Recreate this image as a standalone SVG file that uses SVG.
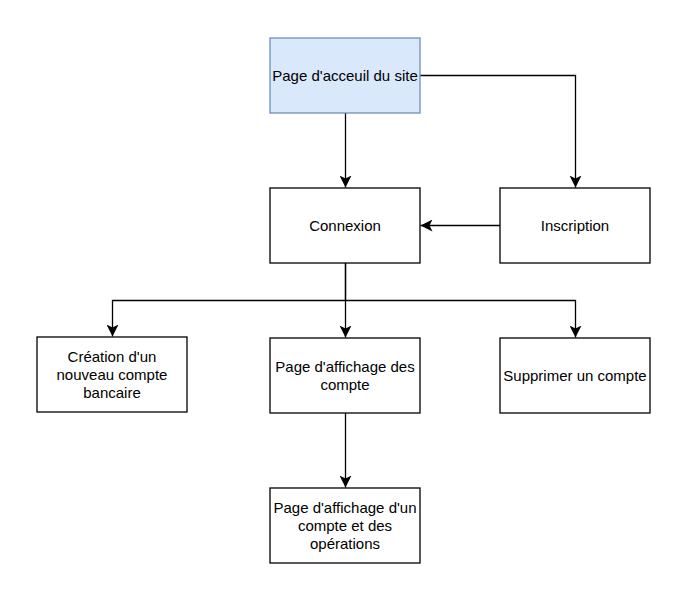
<svg xmlns="http://www.w3.org/2000/svg" width="686" height="607" viewBox="0 0 686 607">
<style>
.box{fill:#ffffff;stroke:#000000;stroke-width:1.3}
.blue{fill:#dae8fc;stroke:#6c8ebf;stroke-width:1.3}
.lbl{font-family:"Liberation Sans",Arial,sans-serif;font-size:15px;fill:#000000;text-anchor:middle}
.edge{fill:none;stroke:#000000;stroke-width:1.3;marker-end:url(#arr)}
</style>
<defs>
<marker id="arr" markerUnits="userSpaceOnUse" markerWidth="12" markerHeight="12" viewBox="0 0 10 10" refX="10" refY="5" orient="auto">
<path d="M0,0 L10,5 L0,10 L2.5,5 Z" fill="#000000"/>
</marker>
</defs>
<rect width="686" height="607" fill="#ffffff"/>
<g id="connectors">
<path class="edge" d="M345.5,113 L345.5,187.5"/>
<path class="edge" d="M420,75.5 L575.5,75.5 L575.5,187.5"/>
<path class="edge" d="M500,225.5 L420.5,225.5"/>
<path class="edge" d="M345.5,263 L345.5,300.5 L112.5,300.5 L112.5,336.5"/>
<path class="edge" d="M345.5,263 L345.5,337.5"/>
<path class="edge" d="M345.5,300.5 L575.5,300.5 L575.5,337.5"/>
<path class="edge" d="M345.5,413 L345.5,487.5"/>
</g>
<g id="accueil">
<rect class="blue" x="270" y="38" width="150" height="75"/>
<text class="lbl" x="345" y="80.5">Page d'acceuil du site</text>
</g>
<g id="connexion">
<rect class="box" x="270" y="188" width="150" height="75"/>
<text class="lbl" x="345" y="230.5">Connexion</text>
</g>
<g id="inscription">
<rect class="box" x="500" y="188" width="150" height="75"/>
<text class="lbl" x="575" y="230.5">Inscription</text>
</g>
<g id="creation">
<rect class="box" x="37" y="337" width="150" height="75"/>
<text class="lbl" x="112" y="361.5">Création d'un</text>
<text class="lbl" x="112" y="379.5">nouveau compte</text>
<text class="lbl" x="112" y="397.5">bancaire</text>
</g>
<g id="affichage">
<rect class="box" x="270" y="338" width="150" height="75"/>
<text class="lbl" x="345" y="371.5">Page d'affichage des</text>
<text class="lbl" x="345" y="389.5">compte</text>
</g>
<g id="supprimer">
<rect class="box" x="500" y="338" width="150" height="75"/>
<text class="lbl" x="575" y="380.5">Supprimer un compte</text>
</g>
<g id="operations">
<rect class="box" x="270" y="488" width="150" height="75"/>
<text class="lbl" x="345" y="512.5">Page d'affichage d'un</text>
<text class="lbl" x="345" y="530.5">compte et des</text>
<text class="lbl" x="345" y="548.5">opérations</text>
</g>
</svg>
